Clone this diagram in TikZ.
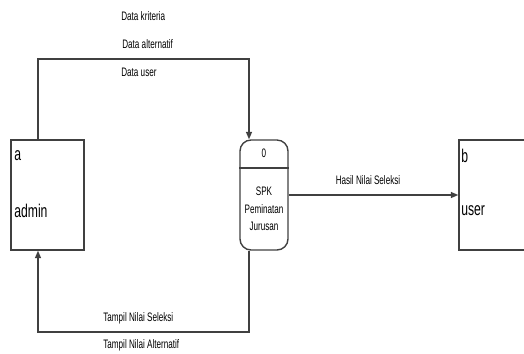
\documentclass[tikz,border=0pt]{standalone}
\usepackage{fontspec}
\setmainfont{Liberation Sans}
\newfontfamily\narrowfont[FakeStretch=0.66]{Liberation Sans}
\usetikzlibrary{positioning, arrows.meta}

\tikzset{
    entity/.style={draw=black!75, line width=0.8pt, rectangle, minimum width=1.46cm, minimum height=2.2cm},
    procbox/.style={draw=black!75, line width=0.8pt, rectangle, rounded corners=0.22cm, minimum width=0.96cm, minimum height=2.2cm},
    flow/.style={draw=black!75, line width=0.8pt, -{Triangle[length=0.15cm,width=0.12cm]}},
    flowlabel/.style={font=\narrowfont\fontsize{7}{8}\selectfont, inner sep=0pt},
    bigtext/.style={font=\narrowfont\fontsize{10.5}{11}\selectfont, inner sep=0pt, anchor=west}
}

\begin{document}
\begin{tikzpicture}[x=0.02cm, y=-0.02cm]
    \useasboundingbox (0,0) rectangle (524,353);
    \clip (0,0) rectangle (524,353);

    % Entities and process
    \node[entity] (admin) at (47.5,195) {};
    \node[procbox] (proc) at (264,195) {};
    \node[entity] (user) at (495.5,195) {};

    \node[bigtext] (admina) at (14,156) {a};
    \node[bigtext] (adminname) at (14,211) {admin};
    \node[bigtext] (userb) at (461,156) {b};
    \node[bigtext] (username) at (461,211) {user};

    \coordinate (divl) at (240,168);
    \coordinate (divr) at (288,168);
    \draw[draw=black!75, line width=0.8pt] (divl -| proc.west) -- (divr -| proc.east);
    \node[flowlabel] (procno) at (264,153) {0};
    \node[flowlabel, align=center] (procname) at (264,209) {SPK\\[2pt]Peminatan\\[2pt]Jurusan};

    % Flows
    \coordinate (topl) at (38,59);
    \coordinate (topr) at (249,59);
    \draw[flow] (admin.north -| topl) -- (topl) -- (topr) -- (proc.north -| topr);

    \coordinate (botl) at (38,332);
    \coordinate (botr) at (249,332);
    \draw[flow] (proc.south -| botr) -- (botr) -- (botl) -- (admin.south -| botl);

    \draw[flow] (proc.east) -- (user.west);

    % Flow labels
    \node[flowlabel, anchor=west] (lbkrit) at (121,16) {Data kriteria};
    \node[flowlabel, anchor=west] (lbalt) at (122,44) {Data alternatif};
    \node[flowlabel, anchor=west] (lbuser) at (121,72) {Data user};
    \node[flowlabel] (lbhasil) at (368,180) {Hasil Nilai Seleksi};
    \node[flowlabel, anchor=west] (lbsel) at (103,318) {Tampil Nilai Seleksi};
    \node[flowlabel, anchor=west] (lbtalt) at (103,345) {Tampil Nilai Alternatif};
\end{tikzpicture}
\end{document}
